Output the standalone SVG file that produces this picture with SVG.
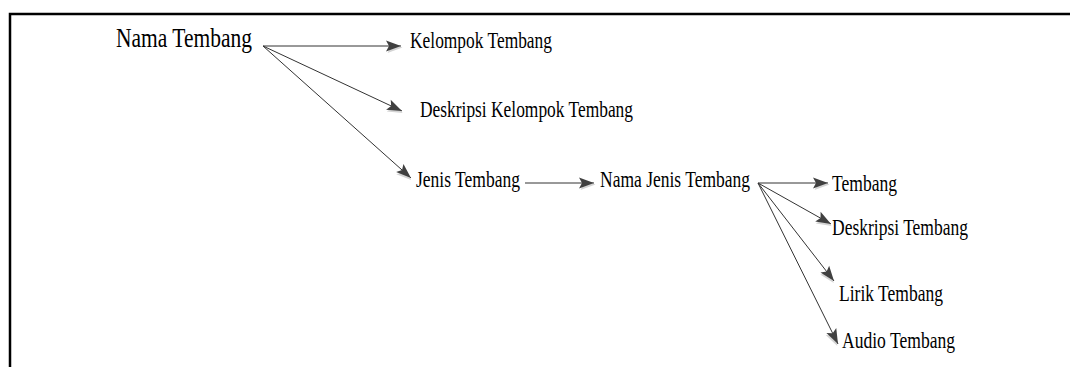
<svg xmlns="http://www.w3.org/2000/svg" width="1070" height="367" viewBox="0 0 1070 367">
<style>
text{font-family:"Liberation Serif","Times New Roman",serif;fill:#000;}
.t{font-size:24px;}
.big{font-size:27px;}
.c{stroke:#333;stroke-width:1;fill:none;marker-end:url(#ah);}
</style>
<defs>
<marker id="ah" markerUnits="userSpaceOnUse" markerWidth="18" markerHeight="14" viewBox="0 0 18 14" refX="15" refY="5.5" orient="auto" overflow="visible">
<path d="M1.5,1.5 L16.5,7 L1.5,12.5 L4.5,7 z" fill="#d4d4d4"/>
<path d="M0,0 L15,5.5 L0,11 L3,5.5 z" fill="#404040"/>
</marker>
</defs>
<rect width="1070" height="367" fill="#fff"/>
<path d="M10,367 V14 H1070" fill="none" stroke="#000" stroke-width="2.5"/>
<g id="connectors">
<line class="c" x1="263" y1="46" x2="401" y2="46"/>
<line class="c" x1="263" y1="46" x2="402" y2="111"/>
<line class="c" x1="263" y1="46" x2="411" y2="178"/>
<line class="c" x1="525" y1="183" x2="594" y2="183"/>
<line class="c" x1="758" y1="183" x2="828" y2="183"/>
<line class="c" x1="758" y1="183" x2="831" y2="224"/>
<line class="c" x1="758" y1="183" x2="834" y2="281"/>
<line class="c" x1="758" y1="183" x2="838" y2="344"/>
</g>
<g id="nama-tembang"><text class="big" x="116" y="46.5" textLength="136" lengthAdjust="spacingAndGlyphs">Nama Tembang</text></g>
<g id="kelompok-tembang"><text class="t" x="410" y="48" textLength="142" lengthAdjust="spacingAndGlyphs">Kelompok Tembang</text></g>
<g id="deskripsi-kelompok-tembang"><text class="t" x="420" y="116.5" textLength="213" lengthAdjust="spacingAndGlyphs">Deskripsi Kelompok Tembang</text></g>
<g id="jenis-tembang"><text class="t" x="416" y="187" textLength="104" lengthAdjust="spacingAndGlyphs">Jenis Tembang</text></g>
<g id="nama-jenis-tembang"><text class="t" x="600" y="187" textLength="150" lengthAdjust="spacingAndGlyphs">Nama Jenis Tembang</text></g>
<g id="tembang"><text class="t" x="832" y="191" textLength="65" lengthAdjust="spacingAndGlyphs">Tembang</text></g>
<g id="deskripsi-tembang"><text class="t" x="832" y="235" textLength="136" lengthAdjust="spacingAndGlyphs">Deskripsi Tembang</text></g>
<g id="lirik-tembang"><text class="t" x="839" y="301" textLength="104" lengthAdjust="spacingAndGlyphs">Lirik Tembang</text></g>
<g id="audio-tembang"><text class="t" x="842" y="348" textLength="113" lengthAdjust="spacingAndGlyphs">Audio Tembang</text></g>
</svg>
